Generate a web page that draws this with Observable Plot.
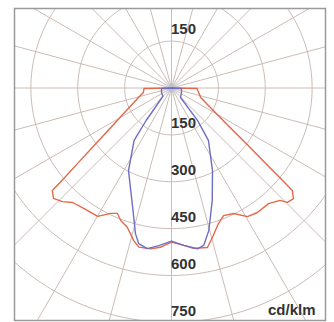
<!DOCTYPE html>
<html><head><meta charset="utf-8">
<script src="https://cdn.jsdelivr.net/npm/d3@7"></script>
<script src="https://cdn.jsdelivr.net/npm/@observablehq/plot@0.6"></script>
<style>body{margin:0;background:#fff} #chart{width:334px;height:322px}</style>
</head><body><div id="chart"></div>
<script>
// C0 - C180 plane (red), gamma in degrees (left half negative), intensity in cd/klm
const redAngles = [-90,-89,-81,-74,-65.7,-60.8,-57.5,-53.6,-51.3,-49.8,-49.3,-46.9,-43.8,-40.8,-36.1,-29.9,-25.9,-23.3,-21,-17.7,-13.9,-11.6,-7.4,-4,0,4.4,7.8,12.7,15.3,19.1,22.2,26.3,30.6,34.6,40,44,45.4,47.8,49.7,50.2,51.4,53.3,56.5,59.3,63.8,72,76.9,86.7,89,90];
const redValues = [0,88,91,110,146,184,223,302,382,462,503,517,504,484,477,474,446,437,454,467,503,520,519,511,493,505,518,523,496,459,441,448,478,484,483,500,521,527,507,466,383,300,217,176,136,98,92,83,82,0];
// C90 - C270 plane (blue)
const blueAngles = [-90,-87,-66,-46,-38,-35.5,-27.5,-18,-13.9,-11.9,-8.6,-4.6,0,4.5,9.1,11.6,14.7,19.9,26.4,35.2,38.7,43.5,66,87,90];
const blueValues = [0,32,35,38,131,206,298,402,480,509,520,506,490,505,521,514,471,383,295,205,133,42,35,32,0];

const ringValues = [150,300,450,600,750,900,1050];
const spokeAngles = d3.range(0, 360, 15);
const upperLabels = [150];
const lowerLabels = [150,300,450,600,750];
const unitLabel = "cd/klm";

const rad = d => d * Math.PI / 180;
const toXY = (g, I) => ({x: I * Math.sin(rad(g)), y: I * Math.cos(rad(g))});
const red = redAngles.map((g, i) => toXY(g, redValues[i]));
const blue = blueAngles.map((g, i) => toXY(g, blueValues[i]));
const rings = ringValues.flatMap(r => d3.range(0, 361, 2).map(a => ({r, ...toXY(a, r)})));
const spokes = spokeAngles.map(a => ({a, ...toXY(a, 1400)}));

const grid = "#cbbcb5";
const font = "'Liberation Sans', Arial, sans-serif";

const chart = Plot.plot({
  width: 334, height: 322,
  marginLeft: 14, marginTop: 8, marginRight: 9, marginBottom: 2,
  x: {domain: [-502.4, 492.8], axis: null},
  y: {domain: [-254.4, 744], reverse: true, axis: null},
  style: {background: "#fff", fontFamily: font},
  marks: [
    Plot.line(rings, {x: "x", y: "y", z: "r", stroke: grid, strokeWidth: 1, clip: true}),
    Plot.link(spokes, {x1: () => 0, y1: () => 0, x2: "x", y2: "y", stroke: grid, strokeWidth: 1, clip: true}),
    Plot.dot([0], {x: () => 0, y: () => 0, r: 8, fill: "#d4d4dc", fillOpacity: 0.35, stroke: "none"}),
    Plot.dot([0], {x: () => 0, y: () => 0, r: 4, fill: "#b8b8c8", fillOpacity: 0.5, stroke: "none"}),
    Plot.line(red, {x: "x", y: "y", stroke: "#e2694a", strokeWidth: 1.4, clip: true}),
    Plot.line(blue, {x: "x", y: "y", stroke: "#6e6ec4", strokeWidth: 1.4, clip: true}),
    Plot.text(upperLabels, {x: () => 0, y: d => -d, text: d => String(d), dx: 12, dy: -11.5,
      fontSize: 15, fontWeight: "bold", fill: "#333", fontFamily: font}),
    Plot.text(lowerLabels, {x: () => 0, y: d => d, text: d => String(d), dx: 12, dy: -11.5,
      fontSize: 15, fontWeight: "bold", fill: "#333", fontFamily: font}),
    Plot.text([unitLabel], {frameAnchor: "bottom-right", text: d => d, dx: -10, dy: -10,
      textAnchor: "end", lineAnchor: "middle", fontSize: 15, fontWeight: "bold", fill: "#333", fontFamily: font}),
    Plot.frame({stroke: "#9a9a9a", strokeWidth: 1.5})
  ]
});
document.getElementById("chart").appendChild(chart);
</script>
</body></html>
